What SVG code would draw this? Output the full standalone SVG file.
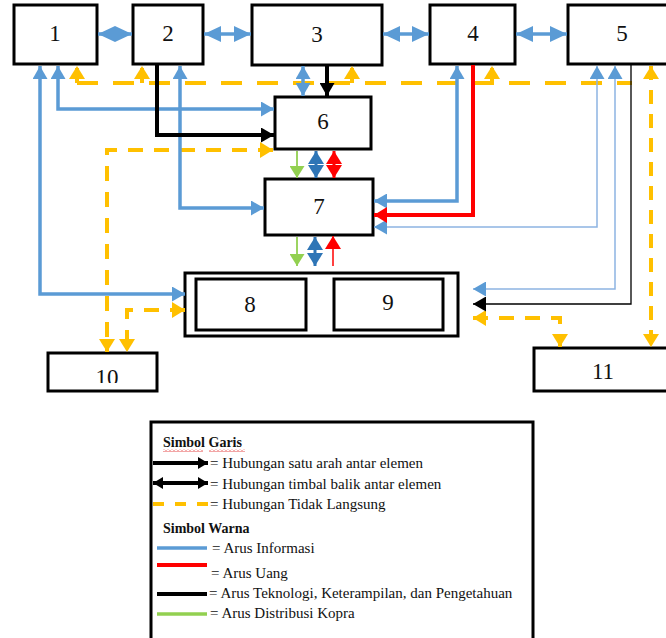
<svg xmlns="http://www.w3.org/2000/svg" width="666" height="638" viewBox="0 0 666 638">
<style>
.box{fill:#fff;stroke:#000;stroke-width:3}
.num{font-family:"Liberation Serif","DejaVu Serif",serif;font-size:23px;text-anchor:middle;fill:#111}
.c{fill:none}
.b{stroke:#5B9BD5;stroke-width:3.5}
.db{stroke:#2E75B6;stroke-width:3}
.r{stroke:#FF0000;stroke-width:4}
.rt{stroke:#FF0000;stroke-width:1.5}
.k{stroke:#000;stroke-width:4}
.kt{stroke:#000;stroke-width:1.3}
.bt{stroke:#8DB4E2;stroke-width:1.5}
.g{stroke:#92D050;stroke-width:1.8}
.y{stroke:#FFC000;stroke-width:4;stroke-dasharray:15 11}
.yh{stroke:#FFC000;stroke-width:4;stroke-dasharray:21 15}
.lt{font-family:"Liberation Serif","DejaVu Serif",serif;font-size:15px;fill:#111}
.lh{font-family:"Liberation Serif","DejaVu Serif",serif;font-size:14px;font-weight:bold;fill:#111}
</style>
<defs>
<marker id="mb" markerUnits="userSpaceOnUse" markerWidth="13" markerHeight="15" viewBox="0 0 13 15" refX="13" refY="7.5" orient="auto-start-reverse"><path d="M0,0 L13,7.5 L0,15 z" fill="#5B9BD5"/></marker>
<marker id="mbL" markerUnits="userSpaceOnUse" markerWidth="17" markerHeight="16" viewBox="0 0 17 16" refX="17" refY="8" orient="auto-start-reverse"><path d="M0,0 L17,8 L0,16 z" fill="#5B9BD5"/></marker>
<marker id="mdb" markerUnits="userSpaceOnUse" markerWidth="13" markerHeight="16" viewBox="0 0 13 16" refX="13" refY="8" orient="auto-start-reverse"><path d="M0,0 L13,8 L0,16 z" fill="#2E75B6"/></marker>
<marker id="mr" markerUnits="userSpaceOnUse" markerWidth="13" markerHeight="16" viewBox="0 0 13 16" refX="13" refY="8" orient="auto-start-reverse"><path d="M0,0 L13,8 L0,16 z" fill="#FF0000"/></marker>
<marker id="mk" markerUnits="userSpaceOnUse" markerWidth="13" markerHeight="15" viewBox="0 0 13 15" refX="13" refY="7.5" orient="auto-start-reverse"><path d="M0,0 L13,7.5 L0,15 z" fill="#000"/></marker>
<marker id="mks" markerUnits="userSpaceOnUse" markerWidth="10" markerHeight="12" viewBox="0 0 10 12" refX="10" refY="6" orient="auto-start-reverse"><path d="M0,0 L10,6 L0,12 z" fill="#000"/></marker>
<marker id="my" markerUnits="userSpaceOnUse" markerWidth="13" markerHeight="16" viewBox="0 0 13 16" refX="13" refY="8" orient="auto-start-reverse"><path d="M0,0 L13,8 L0,16 z" fill="#FFC000"/></marker>
<marker id="mg" markerUnits="userSpaceOnUse" markerWidth="12" markerHeight="15" viewBox="0 0 12 15" refX="12" refY="7.5" orient="auto-start-reverse"><path d="M0,0 L12,7.5 L0,15 z" fill="#92D050"/></marker>
<pattern id="wavy" patternUnits="userSpaceOnUse" width="4" height="3"><path d="M0,2.5 L2,0.5 L4,2.5" fill="none" stroke="#E02020" stroke-width="0.8"/></pattern>
<clipPath id="clip10"><rect x="48" y="353" width="110" height="30"/></clipPath>
</defs>

<g id="node1"><rect class="box" x="14" y="5" width="83" height="59"/><text class="num" x="55" y="41">1</text></g>
<g id="node2"><rect class="box" x="133" y="5" width="70" height="59"/><text class="num" x="168" y="41">2</text></g>
<g id="node3"><rect class="box" x="252" y="5" width="130" height="60"/><text class="num" x="317" y="42">3</text></g>
<g id="node4"><rect class="box" x="430" y="5" width="85" height="59"/><text class="num" x="473" y="41">4</text></g>
<g id="node5"><rect class="box" x="568" y="5" width="110" height="59"/><text class="num" x="622" y="41">5</text></g>
<g id="node6"><rect class="box" x="275" y="97" width="96" height="52"/><text class="num" x="323" y="129">6</text></g>
<g id="node7"><rect class="box" x="265" y="179" width="108" height="56"/><text class="num" x="319" y="214">7</text></g>
<g id="node89"><rect class="box" x="185" y="273" width="273" height="63"/></g>
<g id="node8"><rect class="box" x="196" y="279" width="110" height="51"/><text class="num" x="250" y="312">8</text></g>
<g id="node9"><rect class="box" x="334" y="279" width="109" height="51"/><text class="num" x="388" y="310">9</text></g>
<g id="node10"><rect class="box" x="48" y="353" width="109" height="38"/><text class="num" x="107" y="385" clip-path="url(#clip10)">10</text></g>
<g id="node11"><rect class="box" x="534" y="348" width="146" height="43"/><text class="num" x="603" y="379">11</text></g>

<g id="connectors">
<path class="c yh" d="M77,83 H632"/>
<path class="c y" d="M77,83 V66" marker-end="url(#my)"/>
<path class="c y" d="M142,83 V66" marker-end="url(#my)"/>
<path class="c y" d="M352,83 V66" marker-end="url(#my)"/>
<path class="c y" d="M492,83 V66" marker-end="url(#my)"/>
<path class="c y" style="stroke-dasharray:14 10" d="M651,66 V347" marker-start="url(#my)" marker-end="url(#my)"/>
<path class="c y" d="M273,150 H107 V352" marker-start="url(#my)" marker-end="url(#my)"/>
<path class="c y" d="M185,310 H127 V352" marker-start="url(#my)" marker-end="url(#my)"/>
<path class="c y" d="M473,318 H560 V347" marker-start="url(#my)" marker-end="url(#my)"/>
<path class="c b" d="M98,34 H132" marker-start="url(#mbL)" marker-end="url(#mbL)"/>
<path class="c b" d="M204,34 H251" marker-start="url(#mbL)" marker-end="url(#mbL)"/>
<path class="c b" d="M383,34 H429" marker-start="url(#mbL)" marker-end="url(#mbL)"/>
<path class="c b" d="M516,34 H567" marker-start="url(#mbL)" marker-end="url(#mbL)"/>
<path class="c b" d="M40,66 V294 H185" marker-start="url(#mb)" marker-end="url(#mb)"/>
<path class="c b" d="M58,66 V109 H274" marker-start="url(#mb)" marker-end="url(#mb)"/>
<path class="c b" d="M180,66 V208 H264" marker-start="url(#mb)" marker-end="url(#mb)"/>
<path class="c b" d="M303,66 V96" marker-start="url(#mb)" marker-end="url(#mb)"/>
<path class="c b" d="M457,66 V201 H374" marker-start="url(#mb)" marker-end="url(#mb)"/>
<path class="c bt" d="M597,66 V227 H374" marker-start="url(#mb)" marker-end="url(#mb)"/>
<path class="c bt" d="M615,66 V289 H473" marker-start="url(#mb)" marker-end="url(#mb)"/>
<path class="c k" d="M157,65 V135 H274" marker-end="url(#mk)"/>
<path class="c k" d="M327,66 V96" marker-end="url(#mk)"/>
<path class="c kt" d="M631,65 V304 H473" marker-end="url(#mk)"/>
<path class="c r" d="M473,65 V215 H374" marker-end="url(#mr)"/>
<path class="c rt" style="stroke-width:3" d="M334,151 V178" marker-start="url(#mr)" marker-end="url(#mr)"/>
<path class="c rt" d="M333,266 V236" marker-end="url(#mr)"/>
<path class="c db" d="M316,151 V178" marker-start="url(#mdb)" marker-end="url(#mdb)"/>
<path class="c db" d="M315,237 V266" marker-start="url(#mdb)" marker-end="url(#mdb)"/>
<path class="c g" d="M297,151 V178" marker-end="url(#mg)"/>
<path class="c g" d="M297,237 V266" marker-end="url(#mg)"/>
</g>

<g id="legend">
<path d="M151,645 V422 H533 V645" fill="#fff" stroke="#000" stroke-width="3"/>
<text class="lh" x="163" y="447">Simbol Garis</text>
<rect x="163" y="449" width="40" height="3" fill="url(#wavy)"/>
<rect x="209" y="449" width="36" height="3" fill="url(#wavy)"/>
<path class="c k" d="M153,463 H208" marker-end="url(#mks)"/>
<text class="lt" x="210" y="468">= Hubungan satu arah antar elemen</text>
<path class="c k" d="M153,483 H208" marker-start="url(#mks)" marker-end="url(#mks)"/>
<text class="lt" x="210" y="489">= Hubungan timbal balik antar elemen</text>
<path class="c" stroke="#FFC000" stroke-width="4" stroke-dasharray="11 11" d="M153,504 H209"/>
<text class="lt" x="210" y="509">= Hubungan Tidak Langsung</text>
<text class="lh" x="163" y="533">Simbol Warna</text>
<path class="c b" d="M157,548 H207"/>
<text class="lt" x="212" y="553">= Arus Informasi</text>
<path class="c r" d="M157,565 H207"/>
<text class="lt" x="211" y="578">= Arus Uang</text>
<path class="c k" d="M157,594 H207"/>
<text class="lt" x="209" y="598">= Arus Teknologi, Keterampilan, dan Pengetahuan</text>
<path class="c g" style="stroke-width:3.5" d="M157,614 H207"/>
<text class="lt" x="210" y="618">= Arus Distribusi  Kopra</text>
</g>
</svg>
